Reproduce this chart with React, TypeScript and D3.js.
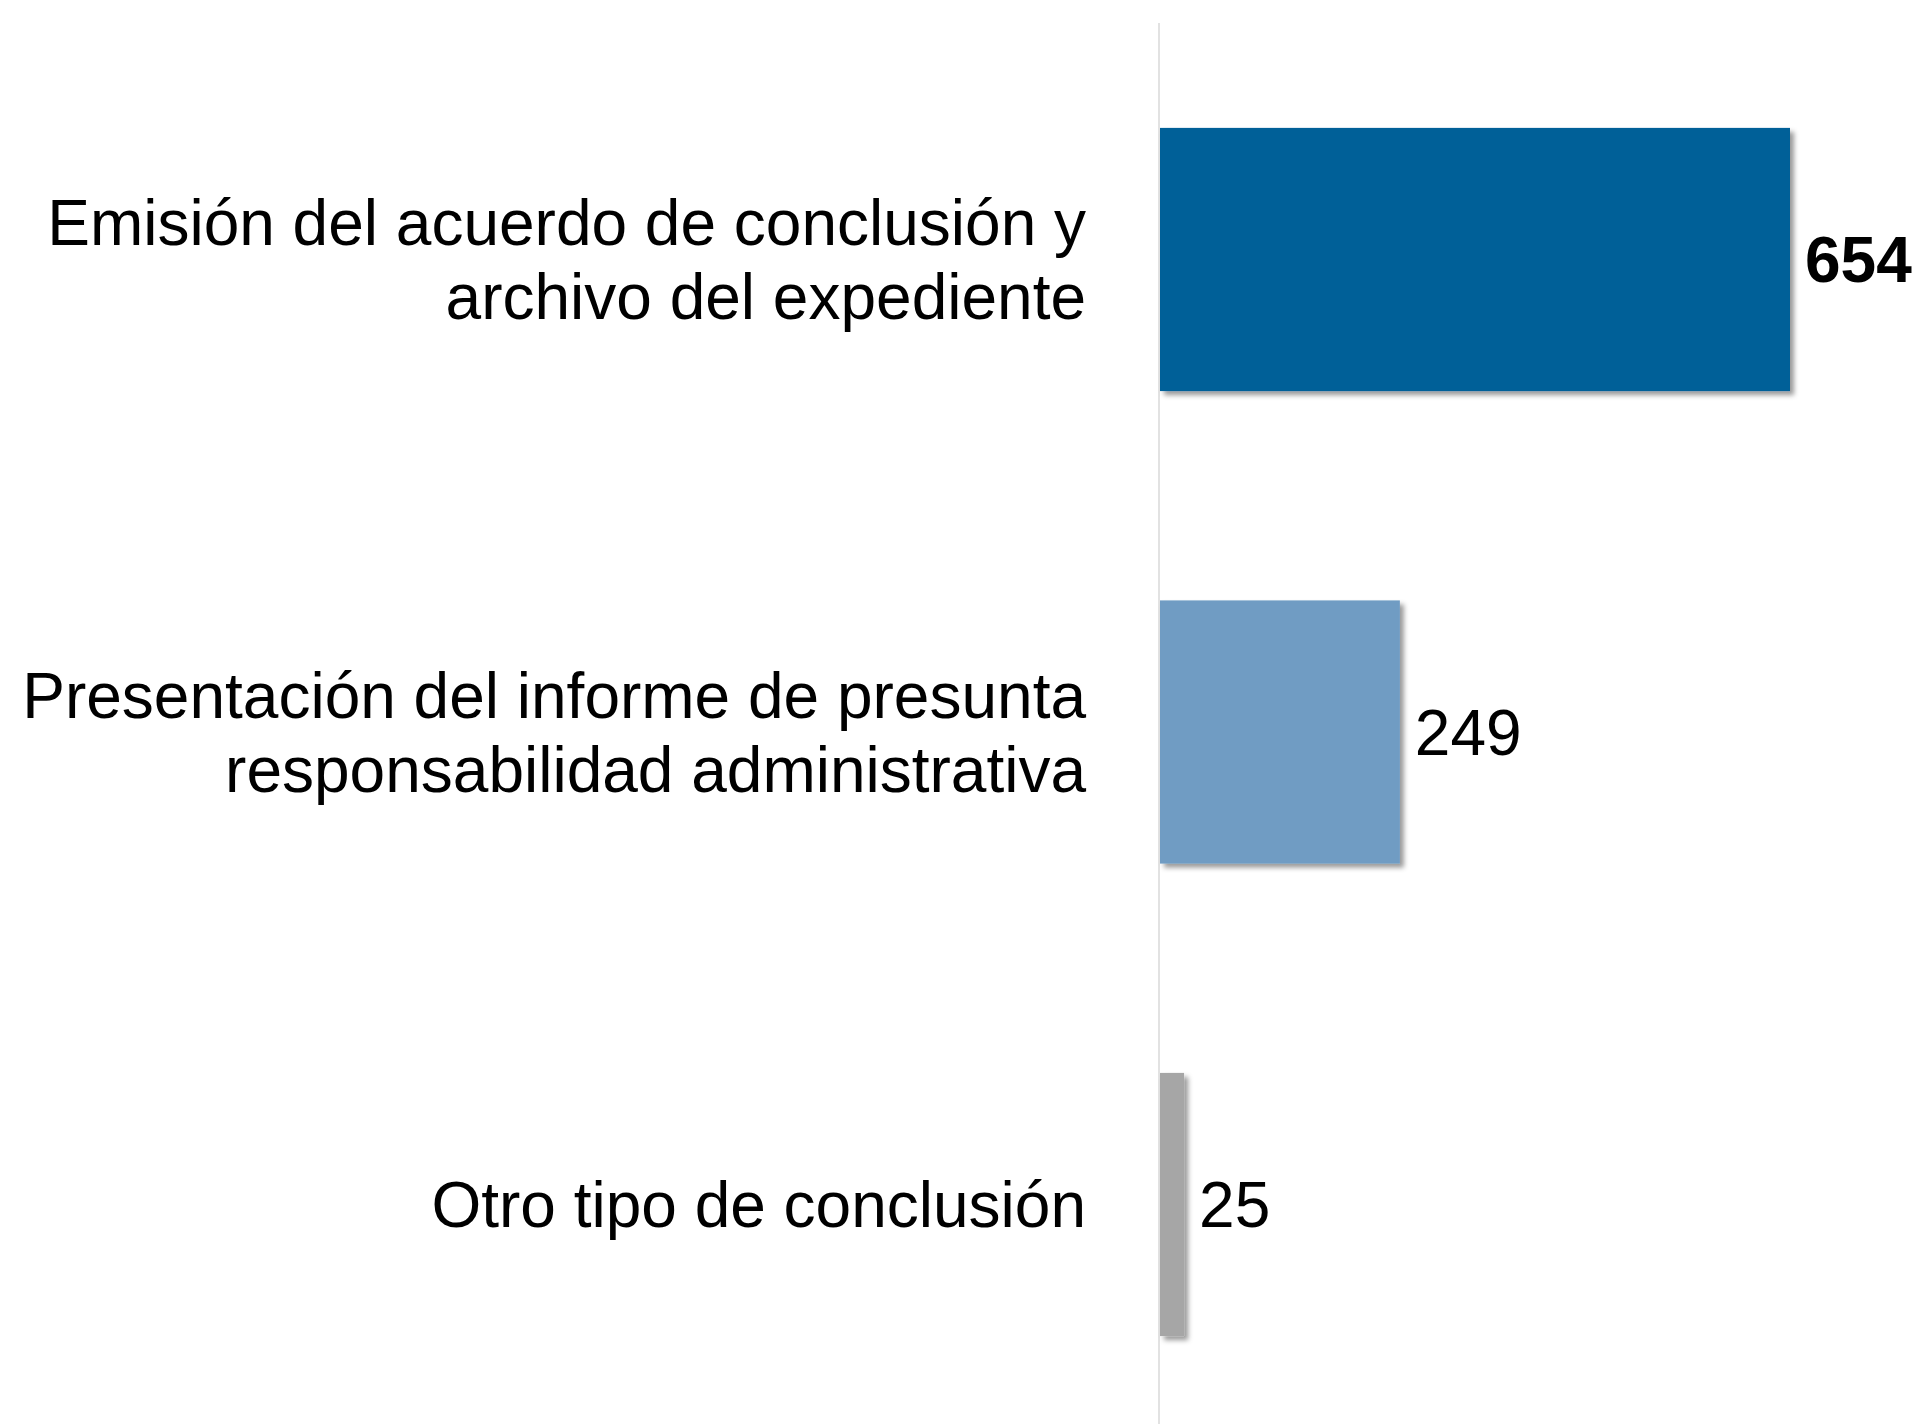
import { useEffect, useRef } from "react";
import * as d3 from "d3";

// data
const categories = [
  ["Emisión del acuerdo de conclusión y", "archivo del expediente"],
  ["Presentación del informe de presunta", "responsabilidad administrativa"],
  ["Otro tipo de conclusión"],
];
const values = [654, 249, 25];
const barColors = ["#006098", "#709cc3", "#a6a6a6"];
const boldValue = [true, false, false];

const W = 1926;
const H = 1424;

export default function App() {
  const ref = useRef<SVGSVGElement>(null);

  useEffect(() => {
    const svg = d3.select(ref.current);
    svg.selectAll("*").remove();

    const fontSize = 64;
    const lineH = 74;
    const capH = 45;
    const keys = categories.map((c, i) => String(i));

    const x = d3.scaleLinear().domain([0, 654]).range([1160, 1790]);
    const y = d3
      .scaleBand()
      .domain(keys)
      .range([23, 1441])
      .paddingInner(0.443)
      .paddingOuter(0.222);

    // shadow under bars
    const defs = svg.append("defs");
    defs
      .append("filter")
      .attr("id", "shadow")
      .attr("x", "-20%")
      .attr("y", "-20%")
      .attr("width", "160%")
      .attr("height", "160%")
      .append("feDropShadow")
      .attr("dx", 4)
      .attr("dy", 4)
      .attr("stdDeviation", 2.5)
      .attr("flood-color", "#000")
      .attr("flood-opacity", 0.4);

    // axis line
    svg
      .append("line")
      .attr("x1", 1159)
      .attr("x2", 1159)
      .attr("y1", 23)
      .attr("y2", H)
      .attr("stroke", "#d9d9d9")
      .attr("stroke-width", 1.5);

    // bars
    svg
      .selectAll("rect.bar")
      .data(values)
      .join("rect")
      .attr("class", "bar")
      .attr("x", x(0))
      .attr("y", (d, i) => y(keys[i])!)
      .attr("width", (d) => x(d) - x(0))
      .attr("height", y.bandwidth())
      .attr("fill", (d, i) => barColors[i])
      .attr("filter", "url(#shadow)");

    // value labels
    svg
      .selectAll("text.val")
      .data(values)
      .join("text")
      .attr("class", "val")
      .attr("x", (d) => x(d) + 15)
      .attr("y", (d, i) => y(keys[i])! + y.bandwidth() / 2 + capH / 2)
      .attr("font-family", "Liberation Sans, Arial, sans-serif")
      .attr("font-size", fontSize)
      .attr("font-weight", (d, i) => (boldValue[i] ? "bold" : "normal"))
      .attr("fill", "#000")
      .text((d) => d);

    // category labels
    categories.forEach((lines, i) => {
      const cy = y(keys[i])! + y.bandwidth() / 2;
      const first = cy - ((lines.length - 1) * lineH) / 2 + capH / 2;
      const t = svg
        .append("text")
        .attr("text-anchor", "end")
        .attr("font-family", "Liberation Sans, Arial, sans-serif")
        .attr("font-size", fontSize)
        .attr("fill", "#000");
      lines.forEach((ln, j) => {
        t.append("tspan")
          .attr("x", 1086)
          .attr("y", first + j * lineH)
          .text(ln);
      });
    });
  }, []);

  return (
    <svg
      ref={ref}
      width={W}
      height={H}
      style={{ position: "absolute", left: 0, top: 0, background: "#fff" }}
    />
  );
}
